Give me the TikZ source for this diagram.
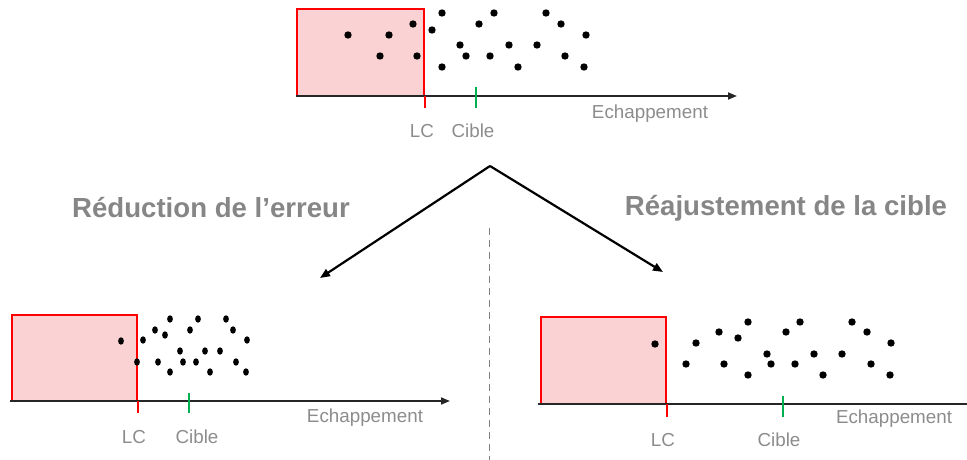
\documentclass[tikz,border=0pt]{standalone}
\usepackage{fontspec}
\setmainfont{Liberation Sans}
\usetikzlibrary{arrows.meta}
\definecolor{txtgray}{HTML}{8C8C8C}
\definecolor{titlegray}{HTML}{868686}
\definecolor{boxfill}{HTML}{FAD2D3}
\definecolor{tgreen}{HTML}{00B050}
\tikzset{
  redbox/.style={draw=red, fill=boxfill, line width=2.2pt},
  axisline/.style={line width=1.8pt, black!85},
  axisarrow/.style={axisline, -{Triangle[length=9pt,width=7pt]}},
  lctick/.style={draw=red, line width=1.8pt},
  cibletick/.style={draw=tgreen, line width=1.6pt},
  lbl/.style={text=txtgray, font=\fontsize{18.8}{22}\selectfont, inner sep=0pt},
  ttl/.style={text=titlegray, font=\fontsize{27.6}{32}\selectfont\bfseries, inner sep=0pt},
  branch/.style={line width=2.2pt, black, -{Triangle[length=10pt,width=8pt]}},
  sep/.style={dashed, draw=gray, line width=1pt, dash pattern=on 7pt off 5pt}
}
\begin{document}
\begin{tikzpicture}[x=1pt,y=-1pt]
\useasboundingbox (0,0) rectangle (967,460);
% ---------- top panel ----------
\draw[redbox] (297,9) rectangle (424,96);
\coordinate (tA0) at (296,96);
\coordinate (tA1) at (737,96);
\draw[axisarrow] (tA0) -- (tA1);
\draw[lctick] (425,96) -- (425,108);
\draw[cibletick] (476,87) -- (476,108);
\foreach \x/\y in {348/35,389/35,413/24,380/56,417/56,442/13,432/30,442/67,460/45,466/56,479/24,494/13,490/56,509/45,518/67,537/45,546/13,561/24,565/56,586/35,584/67}
  \fill (\x,\y) circle (3.7);
\node[lbl] (tLC) at (422,131) {LC};
\node[lbl] (tCible) at (473,131) {Cible};
\node[lbl] (tEch) at (650,114) {Echappement};
% ---------- titles ----------
\node[ttl] (t1) at (211,208) {Réduction de l’erreur};
\node[ttl] (t2) at (786,208) {Réajustement de la cible};
% ---------- arrows ----------
\coordinate (apex) at (490,166);
\coordinate (leftEnd) at (320,278);
\coordinate (rightEnd) at (663,272);
\draw[branch] (apex) -- (leftEnd);
\draw[branch] (apex) -- (rightEnd);
\coordinate (sepTop) at (489,228);
\coordinate (sepBot) at (489,460);
\draw[sep] (sepTop) -- (sepBot);
% ---------- bottom left ----------
\draw[redbox] (12,315) rectangle (137,401);
\coordinate (lA0) at (10,401);
\coordinate (lA1) at (450,401);
\draw[axisarrow] (lA0) -- (lA1);
\draw[lctick] (138,401) -- (138,413);
\draw[cibletick] (189,393) -- (189,413);
\foreach \x/\y in {121/341,143/340,137/362,155/330,170/319,165/335,158/362,170/372,180/351,183/362,190/330,198/319,196/362,205/351,210/372,220/351,226/319,233/330,236/362,247/340,246/372}
  \fill (\x,\y) ellipse [x radius=2.9, y radius=3.7];
\node[lbl] (lLC) at (134,437) {LC};
\node[lbl] (lCible) at (197,437) {Cible};
\node[lbl] (lEch) at (365,418) {Echappement};
% ---------- bottom right ----------
\draw[redbox] (541,317) rectangle (666,404);
\coordinate (rA0) at (538,404);
\coordinate (rA1) at (967,404);
\draw[axisline] (rA0) -- (rA1);
\draw[lctick] (667,404) -- (667,417);
\draw[cibletick] (783,396) -- (783,417);
\foreach \x/\y in {655/344,696/343,686/364,719/332,724/364,748/322,738/338,748/375,767/354,771/364,786/332,800/322,795/364,814/354,823/375,842/354,852/322,867/332,871/364,891/343,890/375}
  \fill (\x,\y) circle (3.7);
\node[lbl] (rLC) at (663,440) {LC};
\node[lbl] (rCible) at (779,440) {Cible};
\node[lbl] (rEch) at (894,419) {Echappement};
\end{tikzpicture}
\end{document}
